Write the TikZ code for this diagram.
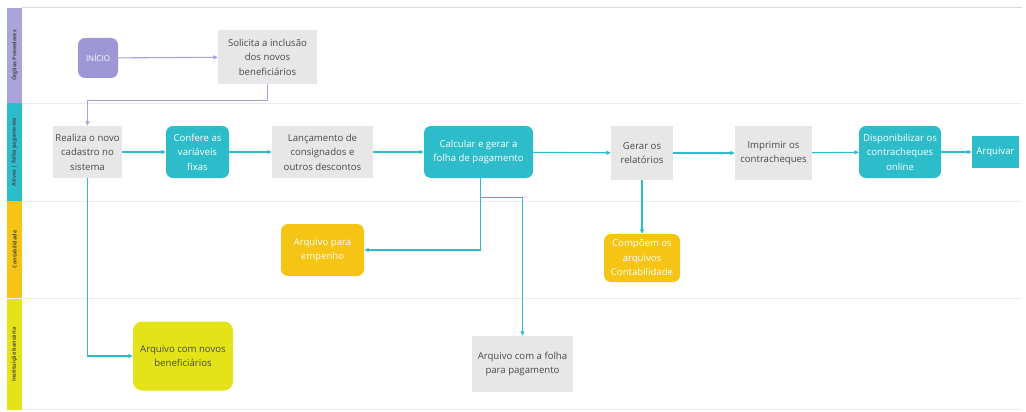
\documentclass[tikz,border=0pt]{standalone}
\usepackage{fontspec}
\setmainfont{Open Sans}
\usetikzlibrary{arrows.meta}
\definecolor{lavbar}{HTML}{A9A5D9}
\definecolor{lavnode}{HTML}{9D97D6}
\definecolor{lavline}{HTML}{A6A1E0}
\definecolor{tealc}{HTML}{2DBDCA}
\definecolor{orangec}{HTML}{F6C414}
\definecolor{limec}{HTML}{E3E318}
\definecolor{boxgray}{HTML}{E7E7E7}
\definecolor{sepgray}{HTML}{ECECEC}
\definecolor{txtdark}{HTML}{4A4A4A}
\begin{document}
\begin{tikzpicture}[x=1pt,y=-1pt,
  boxtext/.style={align=center,font=\fontsize{9.6}{14.5}\selectfont,inner sep=0pt},
  graybox/.style={boxtext,fill=boxgray,text=txtdark},
  tealbox/.style={boxtext,fill=tealc,text=white,rounded corners=7pt},
  orangebox/.style={boxtext,fill=orangec,text=white,rounded corners=7pt},
  limebox/.style={boxtext,fill=limec,text=txtdark,rounded corners=9pt},
  lanebar/.style={inner sep=0pt,minimum width=15pt},
  lanetext/.style={rotate=90,font=\fontsize{5.4}{6}\selectfont\bfseries,text=txtdark},
  tealarrow/.style={draw=tealc,line width=1.1pt,-{Triangle[length=4.5pt,width=4pt]}},
  lavarrow/.style={draw=lavline,line width=1.1pt,-{Triangle[length=4.5pt,width=4pt]}},
  sep/.style={draw=sepgray,line width=1pt}
]
\useasboundingbox[fill=white] (0,0) rectangle (1026,412);

% lane separators
\draw[sep,draw=black!15] (22,8) -- (1022,8);
\draw[sep] (22,103) -- (1022,103);
\draw[sep] (22,201) -- (1022,201);
\draw[sep] (22,298) -- (1022,298);
\draw[sep] (22,409) -- (1022,409);

% lane headers
\node[lanebar,fill=lavbar,minimum height=95pt] (lane1) at (14.5,55.5) {};
\node[lanebar,fill=tealc,minimum height=98pt] (lane2) at (14.5,152) {};
\node[lanebar,fill=orangec,minimum height=97pt] (lane3) at (14.5,249.5) {};
\node[lanebar,fill=limec,minimum height=111pt] (lane4) at (14.5,354.5) {};
\node[lanetext] (l1) at (lane1) {Órgãos Provedores};
\node[lanetext] (l2) at (lane2) {Ativos | folha pagamento};
\node[lanetext] (l3) at (lane3) {Contabilidade};
\node[lanetext] (l4) at (lane4) {Instituição bancária};

% first lane
\node[boxtext,fill=lavnode,text=white,rounded corners=7pt,minimum width=40pt,minimum height=40pt,font=\fontsize{8}{9}\selectfont] (inicio) at (98,58) {INÍCIO};
\node[graybox,minimum width=99pt,minimum height=54pt] (solicita) at (267.5,57) {Solicita a inclusão\\dos novos\\beneficiários};

% second lane
\node[graybox,minimum width=69pt,minimum height=52pt] (realiza) at (87.5,152) {Realiza o novo\\cadastro no\\sistema};
\node[tealbox,minimum width=63pt,minimum height=52pt] (confere) at (197.5,152) {Confere as\\variáveis\\fixas};
\node[graybox,minimum width=101pt,minimum height=52pt] (lanc) at (322.5,152) {Lançamento de\\consignados e\\outros descontos};
\node[tealbox,minimum width=109pt,minimum height=52pt] (calc) at (478.5,152) {Calcular e gerar a\\folha de pagamento};
\node[graybox,minimum width=62pt,minimum height=54pt] (gerar) at (642,153) {Gerar os\\relatórios};
\node[graybox,minimum width=77pt,minimum height=54pt] (imprimir) at (773.5,153) {Imprimir os\\contracheques};
\node[tealbox,minimum width=82pt,minimum height=52pt] (disp) at (900,152) {Disponibilizar os\\contracheques\\online};
\node[boxtext,fill=tealc,text=white,minimum width=47pt,minimum height=32pt] (arquivar) at (995.5,152) {Arquivar};

% third lane
\node[orangebox,minimum width=83pt,minimum height=52pt] (empenho) at (322.5,250) {Arquivo para\\empenho};
\node[orangebox,minimum width=76pt,minimum height=48pt] (compoem) at (642,258) {Compõem os\\arquivos\\Contabilidade};

% fourth lane
\node[limebox,minimum width=100pt,minimum height=69pt] (novos) at (183,356) {Arquivo com novos\\beneficiários};
\node[graybox,minimum width=101pt,minimum height=56pt] (folha) at (522.5,364) {Arquivo com a folha\\para pagamento};

% connectors
\draw[lavarrow] (inicio) -- (solicita);
\draw[lavarrow] (solicita.south) -- ++(0,16) -| (realiza.north);
\draw[tealarrow] (realiza) -- (confere);
\draw[tealarrow] (confere) -- (lanc);
\draw[tealarrow] (lanc) -- (calc);
\draw[tealarrow] (calc) -- (gerar);
\draw[tealarrow] (gerar) -- (imprimir);
\draw[tealarrow] (imprimir) -- (disp);
\draw[tealarrow] (disp) -- (arquivar);
\draw[tealarrow] ([xshift=2pt]calc.south) |- (empenho.east);
\draw[tealarrow] ([xshift=2pt]calc.south) -- ++(0,19) -| (folha.north);
\draw[tealarrow] (gerar.south) -- (compoem.north);
\draw[tealarrow] (realiza.south) |- (novos.west);
\end{tikzpicture}
\end{document}
